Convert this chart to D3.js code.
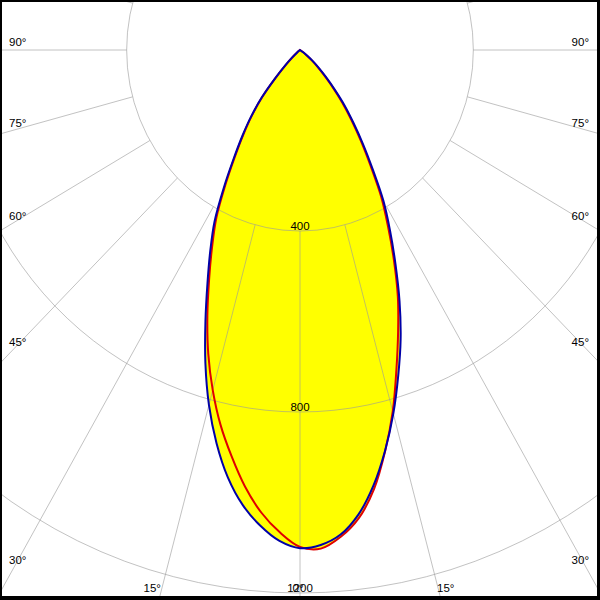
<!DOCTYPE html>
<html><head><meta charset="utf-8">
<script src="https://cdn.jsdelivr.net/npm/d3@7/dist/d3.min.js"></script>
<style>html,body{margin:0;padding:0;background:#fff;}svg{display:block;}</style>
</head><body>
<script>
// gamma angles (degrees from nadir), per half-plane
const angles    = [0,2.5,5,7.5,10,12.5,15,17.5,20,22.5,25,27.5,30,32.5,35,37.5,40,42.5,45,47.5,50,52.5,55,57.5,60,62.5,65,67.5,70,72.5,75,77.5,80,82.5,85,87.5,90];
const redLeft   = [1098,1067,1026,973,911,848,778,704,625,548,480,418,345,280,228,182,135,82,45,22,8,2,0,0,0,0,0,0,0,0,0,0,0,0,0,0,0];
const redRight  = [1100,1103,1080,1043,985,908,827,740,662,590,513,440,375,303,245,195,152,112,78,55,35,18,8,2,0,0,0,0,0,0,0,0,0,0,0,0,0];
const blueLeft  = [1101,1086,1055,1014,959,890,812,726,638,558,490,427,352,285,232,185,138,85,48,25,10,3,0,0,0,0,0,0,0,0,0,0,0,0,0,0,0];
const blueRight = [1100,1095,1075,1035,977,907,832,754,679,600,521,450,385,312,253,202,160,118,85,60,40,22,10,3,0,0,0,0,0,0,0,0,0,0,0,0,0];
const ringValues = [400,800,1200];
const degreeTicks = [0,15,30,45,60,75,90];

const W = 600, H = 600, cx = 300, cy = 50;
const sx = d3.scaleLinear().domain([0,1200]).range([0,520]);
const sy = d3.scaleLinear().domain([0,1200]).range([0,543]);
const rad = d => d*Math.PI/180;
function proj(a, v){ // a: degrees from nadir, positive to the right
  return [cx + sx(v)*Math.sin(rad(a)), cy + sy(v)*Math.cos(rad(a))];
}

const svg = d3.select('body').append('svg').attr('width',W).attr('height',H);
svg.append('defs').append('clipPath').attr('id','clip')
  .append('rect').attr('x',0).attr('y',0).attr('width',W).attr('height',H);
svg.append('rect').attr('width',W).attr('height',H).attr('fill','#fff');

function curvePoints(left, right){
  const pts = [];
  for (let i = angles.length-1; i >= 0; i--) pts.push(proj(-angles[i], left[i]));
  for (let i = 1; i < angles.length; i++) pts.push(proj(angles[i], right[i]));
  return pts.filter((p,i) => i===0 || Math.hypot(p[0]-pts[i-1][0], p[1]-pts[i-1][1]) > 1e-6);
}
const line = d3.line().curve(d3.curveCatmullRom.alpha(0.5));
const redPts = curvePoints(redLeft, redRight);
const bluePts = curvePoints(blueLeft, blueRight);

const g = svg.append('g').attr('clip-path','url(#clip)');
g.append('path').attr('d', line(redPts)+'Z').attr('fill','#ffff00');
g.append('path').attr('d', line(bluePts)+'Z').attr('fill','#ffff00');

// grid
const grid = g.append('g').attr('fill','none').attr('stroke','#9a9a9a').attr('stroke-opacity',0.6).attr('stroke-width',1);
ringValues.forEach(v => {
  grid.append('ellipse').attr('cx',cx).attr('cy',cy).attr('rx',sx(v)).attr('ry',sy(v));
});
for (let a = 0; a < 360; a += 15) {
  const p0 = proj(a, ringValues[0]), p1 = proj(a, 4000);
  grid.append('line').attr('x1',p0[0]).attr('y1',p0[1]).attr('x2',p1[0]).attr('y2',p1[1]);
}

// curves
g.append('path').attr('d', line(redPts)+'Z').attr('fill','none').attr('stroke','#e00000').attr('stroke-width',2);
g.append('path').attr('d', line(bluePts)+'Z').attr('fill','none').attr('stroke','#0000a8').attr('stroke-width',2);

// labels
const font = '"Liberation Sans", Arial, sans-serif';
const lab = svg.append('g').attr('font-family',font).attr('font-size','11.5px').attr('fill','#000');
ringValues.forEach(v => {
  lab.append('text').attr('x',cx).attr('y',cy + sy(v) - 1).attr('text-anchor','middle').text(v);
});
degreeTicks.forEach(a => {
  [-1,1].forEach(side => {
    const dx = side*sx(1)*Math.sin(rad(a)), dy = sy(1)*Math.cos(rad(a));
    if (a >= 30) {
      const xr = side<0 ? 18 : W-18;
      const yRay = cy + (xr-cx)/dx*dy;
      const yc = yRay - 8*(a-30)/60;
      lab.append('text').attr('x', side<0 ? 9 : W-11).attr('y', yc+4)
        .attr('text-anchor', side<0 ? 'start' : 'end').text(a+'°');
    } else if (a > 0) {
      const xRay = cx + (588-cy)/dy*dx;
      lab.append('text').attr('x', xRay-1).attr('y', 592)
        .attr('text-anchor', side<0 ? 'end' : 'start').text(a+'°');
    } else if (side < 0) {
      lab.append('text').attr('x', cx-2).attr('y', 592).attr('text-anchor','middle').text(a+'°');
    }
  });
});

// frame
const fr = svg.append('g').attr('fill','#000');
fr.append('rect').attr('x',0).attr('y',0).attr('width',W).attr('height',2);
fr.append('rect').attr('x',0).attr('y',0).attr('width',2).attr('height',H);
fr.append('rect').attr('x',W-3).attr('y',0).attr('width',3).attr('height',H);
fr.append('rect').attr('x',0).attr('y',H-4).attr('width',W).attr('height',4);
</script>
</body></html>
